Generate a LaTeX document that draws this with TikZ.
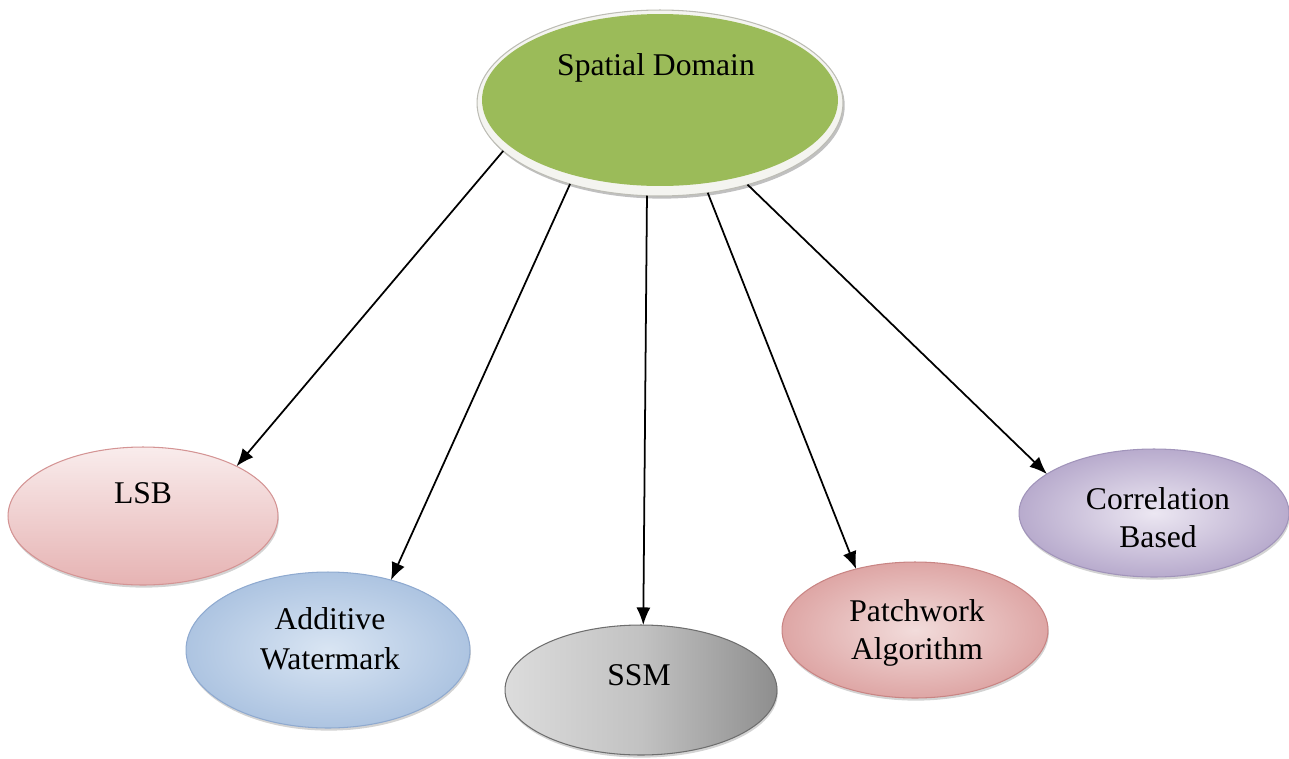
\documentclass[tikz,border=0pt]{standalone}
\usepackage{fontspec}
\setmainfont{Liberation Serif}
\usetikzlibrary{arrows.meta,shapes.geometric,shadows}
\definecolor{sdgreen}{HTML}{9BBB59}
\definecolor{rimfill}{HTML}{F4F4F0}
\definecolor{rimline}{HTML}{BDBDB5}
\definecolor{pinkA}{HTML}{F9ECEC}
\definecolor{pinkB}{HTML}{E6B3B3}
\definecolor{pinkLine}{HTML}{D49494}
\definecolor{blueIn}{HTML}{D9E5F3}
\definecolor{blueOut}{HTML}{ADC4E1}
\definecolor{blueLine}{HTML}{8FAAD0}
\definecolor{grayL}{HTML}{DCDCDC}
\definecolor{grayM}{HTML}{C2C2C2}
\definecolor{grayD}{HTML}{8E8E8E}
\definecolor{grayLine}{HTML}{6E6E6E}
\definecolor{roseIn}{HTML}{F2DCDB}
\definecolor{roseOut}{HTML}{DEA6A5}
\definecolor{roseLine}{HTML}{C98584}
\definecolor{lavIn}{HTML}{ECE7F2}
\definecolor{lavOut}{HTML}{B8ABCD}
\definecolor{lavLine}{HTML}{A194BA}
\tikzset{
  leaf/.style={ellipse, inner sep=0pt, outer sep=0pt, line width=0.6pt,
    drop shadow={shadow xshift=0.5pt, shadow yshift=-1.5pt, opacity=0.35, fill=black!50}},
  lbl/.style={font=\fontsize{18}{21.5}\selectfont, align=center, inner sep=0pt},
  arr/.style={line width=1pt, -{Latex[length=10pt,width=8pt]}},
}
\begin{document}
\begin{tikzpicture}[x=0.02cm,y=-0.02cm]
\useasboundingbox (0,0) rectangle (1289,758);
% top node
\node[ellipse, inner sep=0pt, outer sep=0pt, minimum width=7.32cm, minimum height=3.72cm,
  fill=rimfill, draw=rimline, line width=0.6pt,
  drop shadow={shadow xshift=1pt, shadow yshift=-1.5pt, opacity=0.45, fill=black!55}]
  (sd) at (660,103) {};
\node[ellipse, inner sep=0pt, outer sep=0pt, minimum width=7.12cm, minimum height=3.44cm,
  fill=sdgreen] (sdin) at (660,100) {};
\node[lbl, anchor=base] (sdt) at (656,75) {Spatial Domain};
% children
\node[leaf, minimum width=5.4cm, minimum height=2.76cm, draw=pinkLine,
  top color=pinkA, bottom color=pinkB] (lsb) at (143,516) {};
\node[lbl, anchor=base] (lsbt) at (143,503) {LSB};
\node[leaf, minimum width=5.68cm, minimum height=3.12cm, draw=blueLine,
  inner color=blueIn, outer color=blueOut] (aw) at (328,650) {};
\node[lbl] (awt) at (330,639) {Additive\\[1.2pt]Watermark};
\node[leaf, minimum width=5.44cm, minimum height=2.6cm, draw=grayLine,
  left color=grayL, right color=grayD, middle color=grayM] (ssm) at (641,690) {};
\node[lbl, anchor=base] (ssmt) at (639,685) {SSM};
\node[leaf, minimum width=5.32cm, minimum height=2.72cm, draw=roseLine,
  inner color=roseIn, outer color=roseOut] (pa) at (915,630) {};
\node[lbl] (pat) at (917,633) {Patchwork\\Algorithm};
\node[leaf, minimum width=5.4cm, minimum height=2.56cm, draw=lavLine,
  inner color=lavIn, outer color=lavOut] (cb) at (1154,513) {};
\node[lbl] (cbt) at (1158,518) {Correlation\\Based};
% connectors
\draw[arr] (sd.197) -- (lsb.28);
\draw[arr] (sd.222) -- (aw.48);
\draw[arr] (sd.262) -- (ssm.88);
\draw[arr] (sd.298) -- (pa.134);
\draw[arr] (sd.317) -- (cb.160);
\end{tikzpicture}
\end{document}
